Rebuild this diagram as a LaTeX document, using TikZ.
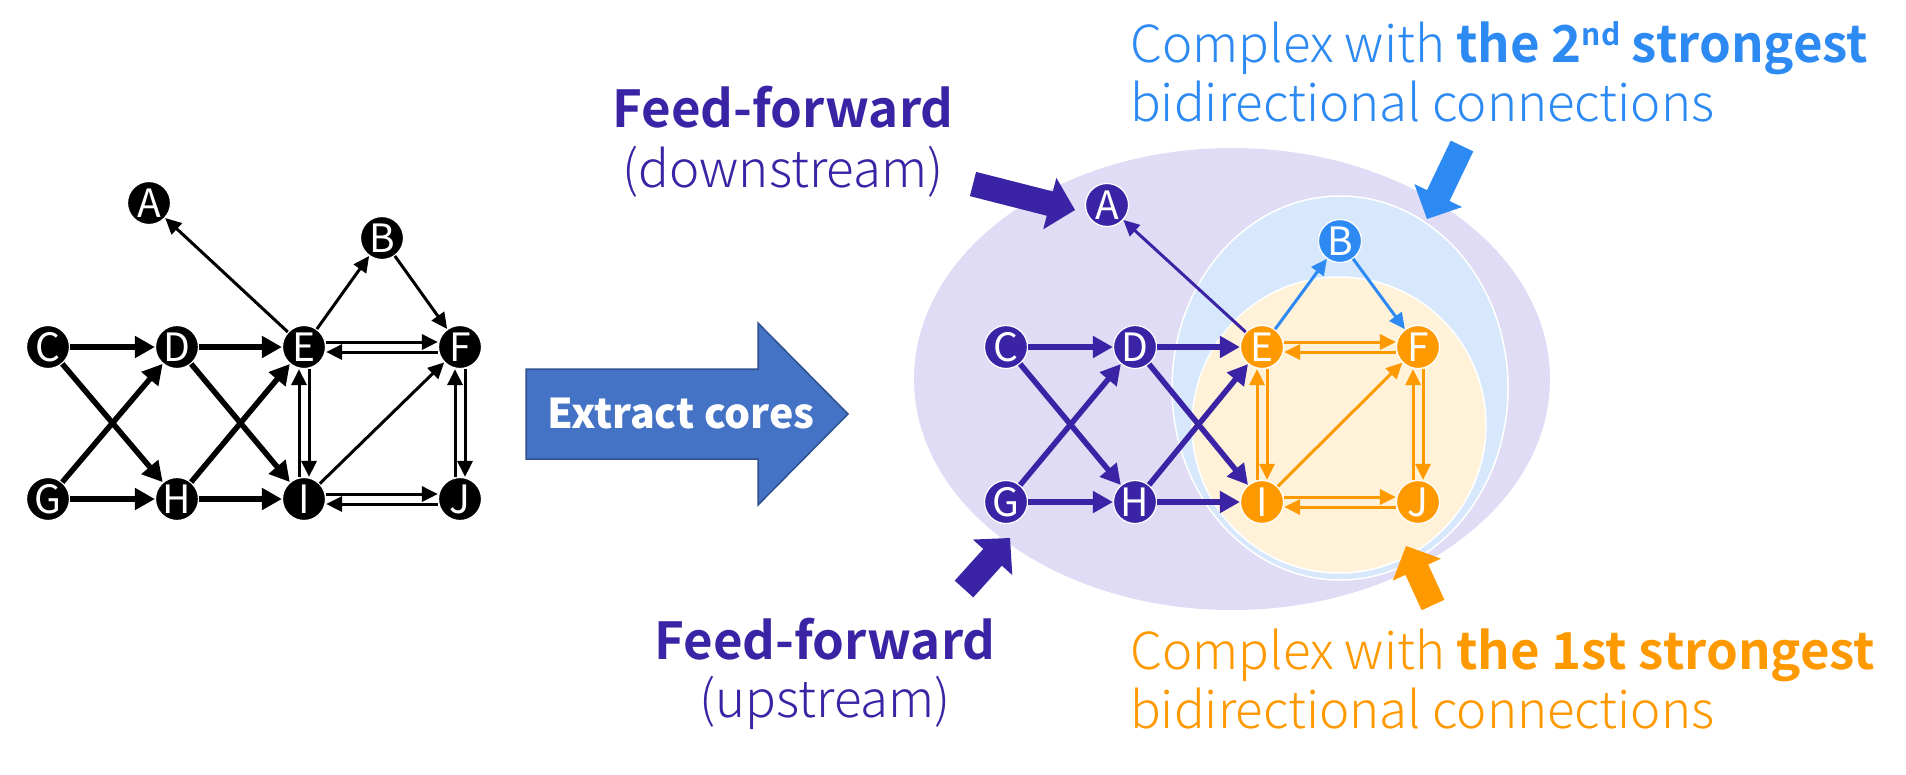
\documentclass[tikz,border=0pt]{standalone}
\usepackage{fontspec}
\setmainfont{Noto Sans CJK JP}
\IfFontExistsTF{Noto Sans CJK JP Light}
  {\newfontfamily\lightfont[BoldFont={Noto Sans CJK JP Bold}]{Noto Sans CJK JP Light}}
  {\newfontfamily\lightfont{Noto Sans CJK JP}}
\usetikzlibrary{arrows.meta,calc}
\definecolor{FFPurple}{HTML}{3B23A5}
\definecolor{CoreBlue}{HTML}{2E8AF3}
\definecolor{CoreOrange}{HTML}{FF9900}
\definecolor{Lavender}{HTML}{E1DCF5}
\definecolor{PaleBlue}{HTML}{D7E8FC}
\definecolor{Cream}{HTML}{FFF2D8}
\definecolor{ExtractBlue}{HTML}{4472C4}
\definecolor{ExtractEdge}{HTML}{2F528F}

% fat pointer: tail, tip, colour
\newcommand{\fatarrow}[3]{%
  \path ($(#2)!26pt!(#1)$) coordinate (hb);
  \fill[#3] ($(#1)!12.5pt!90:(#2)$) -- ($(hb)!12.5pt!90:(#2)$) -- ($(hb)!26.5pt!90:(#2)$) -- (#2)
    -- ($(hb)!26.5pt!-90:(#2)$) -- ($(hb)!12.5pt!-90:(#2)$) -- ($(#1)!12.5pt!-90:(#2)$) -- cycle;
}

\begin{document}
\begin{tikzpicture}[x=1pt, y=-1pt,
  vtx/.style={circle, minimum size=43pt, inner sep=0pt, draw=white, line width=1.2pt, text=white, font=\fontsize{39}{39}\selectfont},
  thinarr/.style={-{Triangle[length=16pt,width=15pt]}, line width=3pt},
  thickarr/.style={-{Triangle[length=20pt,width=21pt]}, line width=5.5pt},
  txt/.style={inner sep=0pt, font=\lightfont\fontsize{51}{59}\selectfont}
]
\useasboundingbox (0,0) rectangle (1906,774);
\fill[white] (0,0) rectangle (1906,774);

% left network
\node[vtx, fill=black] (la) at (149,203) {A};
\node[vtx, fill=black] (lb) at (382,238) {B};
\node[vtx, fill=black] (lc) at (48,347) {C};
\node[vtx, fill=black] (ld) at (177,347) {D};
\node[vtx, fill=black] (le) at (304,347) {E};
\node[vtx, fill=black] (lf) at (460,347) {F};
\node[vtx, fill=black] (lg) at (48,499) {G};
\node[vtx, fill=black] (lh) at (177,499) {H};
\node[vtx, fill=black] (li) at (304,499) {I};
\node[vtx, fill=black] (lj) at (460,499) {J};
\draw[thinarr] (le) -- (la);
\draw[thinarr] (le) -- (lb);
\draw[thinarr] (lb) -- (lf);
\draw[thickarr] (lc) -- (ld);
\draw[thickarr] (lc) -- (lh);
\draw[thickarr] (lg) -- (ld);
\draw[thickarr] (lg) -- (lh);
\draw[thickarr] (ld) -- (le);
\draw[thickarr] (ld) -- (li);
\draw[thickarr] (lh) -- (le);
\draw[thickarr] (lh) -- (li);
\draw[thinarr] ([yshift=5pt]le.east) -- ([yshift=5pt]lf.west);
\draw[thinarr] ([yshift=-5pt]lf.west) -- ([yshift=-5pt]le.east);
\draw[thinarr] ([xshift=5pt]le.south) -- ([xshift=5pt]li.north);
\draw[thinarr] ([xshift=-5pt]li.north) -- ([xshift=-5pt]le.south);
\draw[thinarr] ([xshift=5pt]lf.south) -- ([xshift=5pt]lj.north);
\draw[thinarr] ([xshift=-5pt]lj.north) -- ([xshift=-5pt]lf.south);
\draw[thinarr] ([yshift=5pt]li.east) -- ([yshift=5pt]lj.west);
\draw[thinarr] ([yshift=-5pt]lj.west) -- ([yshift=-5pt]li.east);
\draw[thinarr] (li) -- (lf);

% extract arrow
\filldraw[fill=ExtractBlue, draw=ExtractEdge, line width=1.5pt] (526,369) -- (758,369) -- (758,323) -- (848,414)
  -- (758,505) -- (758,459) -- (526,459) -- cycle;
\node[font=\bfseries\fontsize{41}{41}\selectfont, text=white, anchor=base, inner sep=0pt] (extract) at (681,428) {Extract cores};

% groups
\fill[Lavender] (1232,379) ellipse [x radius=318, y radius=231];
\filldraw[fill=PaleBlue, draw=white, line width=1.5pt] (1340,388) ellipse [x radius=168, y radius=192];
\filldraw[fill=Cream, draw=white, line width=1.5pt] (1339,425) ellipse [x radius=147, y radius=148];

% right network
\node[vtx, fill=FFPurple] (ra) at (1107,205) {A};
\node[vtx, fill=CoreBlue] (rb) at (1340,241) {B};
\node[vtx, fill=FFPurple] (rc) at (1006,347) {C};
\node[vtx, fill=FFPurple] (rd) at (1135,347) {D};
\node[vtx, fill=CoreOrange] (re) at (1262,347) {E};
\node[vtx, fill=CoreOrange] (rf) at (1418,347) {F};
\node[vtx, fill=FFPurple] (rg) at (1006,502) {G};
\node[vtx, fill=FFPurple] (rh) at (1135,502) {H};
\node[vtx, fill=CoreOrange] (ri) at (1262,502) {I};
\node[vtx, fill=CoreOrange] (rj) at (1418,502) {J};
\draw[thinarr, FFPurple] (re) -- (ra);
\draw[thinarr, CoreBlue] (re) -- (rb);
\draw[thinarr, CoreBlue] (rb) -- (rf);
\draw[thickarr, FFPurple] (rc) -- (rd);
\draw[thickarr, FFPurple] (rc) -- (rh);
\draw[thickarr, FFPurple] (rg) -- (rd);
\draw[thickarr, FFPurple] (rg) -- (rh);
\draw[thickarr, FFPurple] (rd) -- (re);
\draw[thickarr, FFPurple] (rd) -- (ri);
\draw[thickarr, FFPurple] (rh) -- (re);
\draw[thickarr, FFPurple] (rh) -- (ri);
\draw[thinarr, CoreOrange] ([yshift=5pt]re.east) -- ([yshift=5pt]rf.west);
\draw[thinarr, CoreOrange] ([yshift=-5pt]rf.west) -- ([yshift=-5pt]re.east);
\draw[thinarr, CoreOrange] ([xshift=5pt]re.south) -- ([xshift=5pt]ri.north);
\draw[thinarr, CoreOrange] ([xshift=-5pt]ri.north) -- ([xshift=-5pt]re.south);
\draw[thinarr, CoreOrange] ([xshift=5pt]rf.south) -- ([xshift=5pt]rj.north);
\draw[thinarr, CoreOrange] ([xshift=-5pt]rj.north) -- ([xshift=-5pt]rf.south);
\draw[thinarr, CoreOrange] ([yshift=5pt]ri.east) -- ([yshift=5pt]rj.west);
\draw[thinarr, CoreOrange] ([yshift=-5pt]rj.west) -- ([yshift=-5pt]ri.east);
\draw[thinarr, CoreOrange] (ri) -- (rf);

% pointers
\coordinate (dntail) at (973,184);
\coordinate (dntip) at (1075,210);
\coordinate (uptail) at (964,589);
\coordinate (uptip) at (1010,538);
\coordinate (bltail) at (1462,146);
\coordinate (bltip) at (1427,219);
\coordinate (ortail) at (1433,605);
\coordinate (ortip) at (1406,546);
\fatarrow{dntail}{dntip}{FFPurple}
\fatarrow{uptail}{uptip}{FFPurple}
\fatarrow{bltail}{bltip}{CoreBlue}
\fatarrow{ortail}{ortip}{CoreOrange}

% labels
\node[txt, anchor=base, text=FFPurple] (ffdown) at (783,127) {\textbf{Feed-forward}};
\node[txt, anchor=base, text=FFPurple] (ffdownsub) at (783,187) {(downstream)};
\node[txt, anchor=base, text=FFPurple] (ffup) at (825,659) {\textbf{Feed-forward}};
\node[txt, anchor=base, text=FFPurple] (ffupsub) at (825,717) {(upstream)};
\node[txt, anchor=base west, text=CoreBlue] (second) at (1130,62) {Complex with \textbf{the 2{\fontsize{30}{30}\selectfont\raisebox{17pt}{nd}} strongest}};
\node[txt, anchor=base west, text=CoreBlue] (secondsub) at (1130,121) {bidirectional connections};
\node[txt, anchor=base west, text=CoreOrange] (first) at (1130,669) {Complex with \textbf{the 1st strongest}};
\node[txt, anchor=base west, text=CoreOrange] (firstsub) at (1130,728) {bidirectional connections};
\end{tikzpicture}
\end{document}
